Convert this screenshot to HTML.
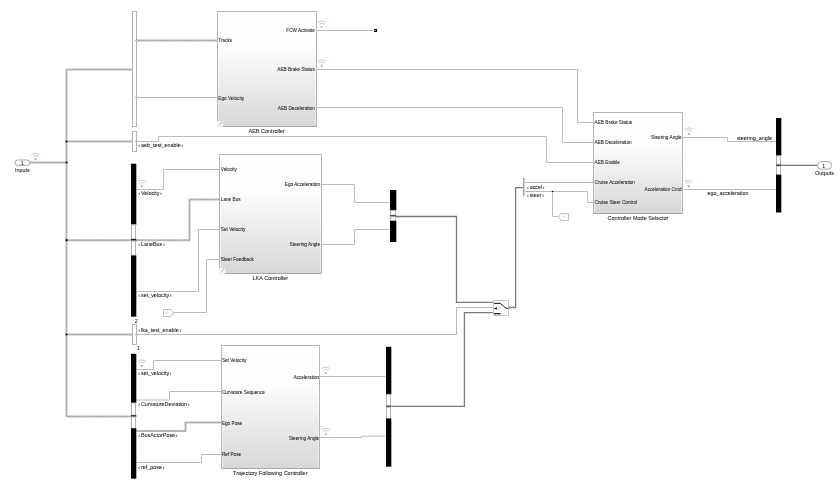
<!DOCTYPE html>
<html><head><meta charset="utf-8"><style>
html,body{margin:0;padding:0;background:#fff;width:840px;height:488px;overflow:hidden}
svg{display:block;will-change:transform}
text{font-family:"Liberation Sans",sans-serif;stroke:#000;stroke-width:0.05px}
</style></head><body>
<svg width="840" height="488" viewBox="0 0 840 488">
<defs>
<linearGradient id="g" x1="0" y1="0" x2="0" y2="1">
<stop offset="0" stop-color="#ffffff"/><stop offset="0.33" stop-color="#fcfcfc"/><stop offset="1" stop-color="#d7d7d7"/>
</linearGradient>
<g id="wifi" fill="none" stroke="#6f9fd8" stroke-width="0.85" stroke-opacity="0.62">
<circle cx="0" cy="0" r="1.1" fill="#6f9fd8" fill-opacity="0.75" stroke="none"/>
<path d="M-2.6,-2.5 A3.4,3.4 0 0 1 2.6,-2.5"/>
<path d="M-4.15,-4.3 A6.8,6.8 0 0 1 4.15,-4.3"/>
</g>
</defs>
<rect width="840" height="488" fill="#fff"/>
<path d="M30,162.5 L66.5,162.5" fill="none" stroke="#bababa" stroke-width="2"/>
<path d="M30,162.5 L66.5,162.5" fill="none" stroke="#9a9a9a" stroke-width="0.7" stroke-dasharray="1.2 1.8"/>
<path d="M66.5,69.5 L66.5,416.5" fill="none" stroke="#bababa" stroke-width="2"/>
<path d="M66.5,69.5 L66.5,416.5" fill="none" stroke="#9a9a9a" stroke-width="0.7" stroke-dasharray="1.2 1.8"/>
<path d="M66.5,69.5 L132,69.5" fill="none" stroke="#bababa" stroke-width="2"/>
<path d="M66.5,69.5 L132,69.5" fill="none" stroke="#9a9a9a" stroke-width="0.7" stroke-dasharray="1.2 1.8"/>
<path d="M66.5,141.5 L132,141.5" fill="none" stroke="#bababa" stroke-width="2"/>
<path d="M66.5,141.5 L132,141.5" fill="none" stroke="#9a9a9a" stroke-width="0.7" stroke-dasharray="1.2 1.8"/>
<path d="M66.5,240.2 L131,240.2" fill="none" stroke="#bababa" stroke-width="2"/>
<path d="M66.5,240.2 L131,240.2" fill="none" stroke="#9a9a9a" stroke-width="0.7" stroke-dasharray="1.2 1.8"/>
<path d="M66.5,334.5 L132,334.5" fill="none" stroke="#bababa" stroke-width="2"/>
<path d="M66.5,334.5 L132,334.5" fill="none" stroke="#9a9a9a" stroke-width="0.7" stroke-dasharray="1.2 1.8"/>
<path d="M66.5,416.5 L131,416.5" fill="none" stroke="#bababa" stroke-width="2"/>
<path d="M66.5,416.5 L131,416.5" fill="none" stroke="#9a9a9a" stroke-width="0.7" stroke-dasharray="1.2 1.8"/>
<circle cx="66.5" cy="141.5" r="1.1" fill="#000"/>
<circle cx="66.5" cy="162.5" r="1.1" fill="#000"/>
<circle cx="66.5" cy="240.2" r="1.1" fill="#000"/>
<circle cx="66.5" cy="334.5" r="1.1" fill="#000"/>
<path d="M136.5,40.5 L217.5,40.5" fill="none" stroke="#bababa" stroke-width="2"/>
<path d="M136.5,40.5 L217.5,40.5" fill="none" stroke="#9a9a9a" stroke-width="0.7" stroke-dasharray="1.2 1.8"/>
<path d="M136.5,97.5 L217.5,97.5" fill="none" stroke="#bcbcbc" stroke-width="1"/>
<path d="M316.5,30.5 L374,30.5" fill="none" stroke="#bcbcbc" stroke-width="1"/>
<path d="M316.5,69.5 L577.5,69.5 L577.5,122.5 L593.5,122.5" fill="none" stroke="#bcbcbc" stroke-width="1"/>
<path d="M316.5,107.5 L562.5,107.5 L562.5,142.5 L593.5,142.5" fill="none" stroke="#bcbcbc" stroke-width="1"/>
<path d="M136.5,141.5 L158.5,141.5 L158.5,136.5 L546.5,136.5 L546.5,162.5 L593.5,162.5" fill="none" stroke="#bcbcbc" stroke-width="1"/>
<path d="M136,189.5 L163.5,189.5 L163.5,169.5 L219.5,169.5" fill="none" stroke="#bcbcbc" stroke-width="1"/>
<path d="M136,240.2 L189.5,240.2 L189.5,199.5 L219.5,199.5" fill="none" stroke="#bababa" stroke-width="2"/>
<path d="M136,240.2 L189.5,240.2 L189.5,199.5 L219.5,199.5" fill="none" stroke="#9a9a9a" stroke-width="0.7" stroke-dasharray="1.2 1.8"/>
<path d="M136,291.5 L198.5,291.5 L198.5,229.5 L219.5,229.5" fill="none" stroke="#bcbcbc" stroke-width="1"/>
<path d="M173.5,312.5 L206.5,312.5 L206.5,259.5 L219.5,259.5" fill="none" stroke="#bcbcbc" stroke-width="1"/>
<path d="M321.5,184.5 L354.5,184.5 L354.5,202.5 L389.5,202.5" fill="none" stroke="#bcbcbc" stroke-width="1"/>
<path d="M321.5,244.5 L354.5,244.5 L354.5,229.5 L389.5,229.5" fill="none" stroke="#bcbcbc" stroke-width="1"/>
<path d="M136.5,334.5 L456.5,334.5 L456.5,307.5 L493.5,307.5" fill="none" stroke="#bcbcbc" stroke-width="1"/>
<path d="M396,216.5 L456.5,216.5 L456.5,302.4 L493.5,302.4" fill="none" stroke="#7a7a7a" stroke-width="1.3"/>
<path d="M136,369.5 L153.5,369.5 L153.5,360.5 L221.5,360.5" fill="none" stroke="#bcbcbc" stroke-width="1"/>
<path d="M136,400 L169.5,400 L169.5,391.5 L221.5,391.5" fill="none" stroke="#bcbcbc" stroke-width="1"/>
<path d="M136,431 L185.5,431 L185.5,422.5 L221.5,422.5" fill="none" stroke="#bababa" stroke-width="2"/>
<path d="M136,431 L185.5,431 L185.5,422.5 L221.5,422.5" fill="none" stroke="#9a9a9a" stroke-width="0.7" stroke-dasharray="1.2 1.8"/>
<path d="M136,462.5 L201.5,462.5 L201.5,454.5 L221.5,454.5" fill="none" stroke="#bcbcbc" stroke-width="1"/>
<path d="M319.5,376.5 L386,376.5" fill="none" stroke="#bcbcbc" stroke-width="1"/>
<path d="M319.5,437.5 L361.5,437.5 L361.5,436.2 L386,436.2" fill="none" stroke="#bcbcbc" stroke-width="1"/>
<path d="M391,406.3 L464.4,406.3 L464.4,312.6 L493.5,312.6" fill="none" stroke="#7a7a7a" stroke-width="1.3"/>
<path d="M508.5,307.5 L515.6,307.5 L515.6,187.6 L523,187.6" fill="none" stroke="#7a7a7a" stroke-width="1.3"/>
<path d="M525,182.5 L593.5,182.5" fill="none" stroke="#bcbcbc" stroke-width="1"/>
<path d="M525,191.5 L587.5,191.5 L587.5,202.5 L593.5,202.5" fill="none" stroke="#bcbcbc" stroke-width="1"/>
<path d="M552.5,191.5 L552.5,216.5 L558.5,216.5" fill="none" stroke="#bcbcbc" stroke-width="1"/>
<circle cx="552.5" cy="191.5" r="0.8" fill="#000"/>
<path d="M682.5,137.5 L727.5,137.5 L727.5,141.5 L776,141.5" fill="none" stroke="#bcbcbc" stroke-width="1"/>
<path d="M682.5,189.5 L776,189.5" fill="none" stroke="#bcbcbc" stroke-width="1"/>
<path d="M781,165.3 L817.2,165.3" fill="none" stroke="#7a7a7a" stroke-width="1.3"/>
<rect x="217.5" y="11.5" width="99.0" height="115.0" fill="url(#g)" stroke="#b6b6b6" stroke-width="1"/>
<path d="M218.5,12.5 V125.5 M315.5,12.5 V125.5" stroke="#fff" stroke-opacity="0.45" stroke-width="1"/>
<path d="M217.5,126.5 H316.5" stroke="#a6a6a6" stroke-width="1"/>
<rect x="216.9" y="120.9" width="6.6" height="6.2" rx="2.2" fill="#fff" opacity="0.95"/>
<path d="M218.89999999999998,125.1 L221.6,122.3 M220.1,121.8 L221.79999999999998,122.0 L222.1,123.8 M218.89999999999998,123.1 Q219.29999999999998,125.0 221.0,125.3" fill="none" stroke="#a8a8a8" stroke-width="0.6"/>
<rect x="219.5" y="154.5" width="102.0" height="119.0" fill="url(#g)" stroke="#b6b6b6" stroke-width="1"/>
<path d="M220.5,155.5 V272.5 M320.5,155.5 V272.5" stroke="#fff" stroke-opacity="0.45" stroke-width="1"/>
<path d="M219.5,273.5 H321.5" stroke="#a6a6a6" stroke-width="1"/>
<rect x="218.9" y="267.9" width="6.6" height="6.2" rx="2.2" fill="#fff" opacity="0.95"/>
<path d="M220.89999999999998,272.1 L223.6,269.3 M222.1,268.8 L223.79999999999998,269.0 L224.1,270.8 M220.89999999999998,270.1 Q221.29999999999998,272.0 223.0,272.3" fill="none" stroke="#a8a8a8" stroke-width="0.6"/>
<rect x="221.5" y="345.5" width="98.0" height="123.0" fill="url(#g)" stroke="#b6b6b6" stroke-width="1"/>
<path d="M222.5,346.5 V467.5 M318.5,346.5 V467.5" stroke="#fff" stroke-opacity="0.45" stroke-width="1"/>
<path d="M221.5,468.5 H319.5" stroke="#a6a6a6" stroke-width="1"/>
<rect x="593.5" y="112.5" width="89.0" height="101.0" fill="url(#g)" stroke="#b6b6b6" stroke-width="1"/>
<path d="M594.5,113.5 V212.5 M681.5,113.5 V212.5" stroke="#fff" stroke-opacity="0.45" stroke-width="1"/>
<path d="M593.5,213.5 H682.5" stroke="#a6a6a6" stroke-width="1"/>
<rect x="132.5" y="11.5" width="4.0" height="115.0" fill="#fff" stroke="#b3b3b3" stroke-width="1"/>
<rect x="132.5" y="131.5" width="4.0" height="20.0" fill="#fff" stroke="#b3b3b3" stroke-width="1"/>
<rect x="132.5" y="324.5" width="4.0" height="20.0" fill="#fff" stroke="#b3b3b3" stroke-width="1"/>
<rect x="131" y="163.7" width="5" height="61.0" fill="#000"/>
<rect x="136" y="163.7" width="0.6" height="61.0" fill="#777"/>
<rect x="131.5" y="224.7" width="4" height="14.400000000000006" fill="#fff" stroke="#b0b0b0" stroke-width="1"/>
<rect x="131" y="239.1" width="5" height="1.8000000000000114" fill="#000"/>
<rect x="136" y="239.1" width="0.6" height="1.8000000000000114" fill="#777"/>
<rect x="131.5" y="240.9" width="4" height="14.599999999999994" fill="#fff" stroke="#b0b0b0" stroke-width="1"/>
<rect x="131" y="255.5" width="5" height="61.19999999999999" fill="#000"/>
<rect x="136" y="255.5" width="0.6" height="61.19999999999999" fill="#777"/>
<rect x="131" y="353.8" width="5" height="49.19999999999999" fill="#000"/>
<rect x="136" y="353.8" width="0.6" height="49.19999999999999" fill="#777"/>
<rect x="131.5" y="403" width="4" height="12.300000000000011" fill="#fff" stroke="#b0b0b0" stroke-width="1"/>
<rect x="131" y="415.3" width="5" height="1.599999999999966" fill="#000"/>
<rect x="136" y="415.3" width="0.6" height="1.599999999999966" fill="#777"/>
<rect x="131.5" y="416.9" width="4" height="11.400000000000034" fill="#fff" stroke="#b0b0b0" stroke-width="1"/>
<rect x="131" y="428.3" width="5" height="50.39999999999998" fill="#000"/>
<rect x="136" y="428.3" width="0.6" height="50.39999999999998" fill="#777"/>
<rect x="390" y="190" width="6" height="20.400000000000006" fill="#000"/>
<rect x="396" y="190" width="0.6" height="20.400000000000006" fill="#777"/>
<rect x="390.5" y="210.4" width="5" height="4.799999999999983" fill="#fff" stroke="#b0b0b0" stroke-width="1"/>
<rect x="390" y="215.2" width="6" height="1.6000000000000227" fill="#333"/>
<rect x="390.5" y="216.8" width="5" height="4.099999999999994" fill="#fff" stroke="#b0b0b0" stroke-width="1"/>
<rect x="390" y="220.9" width="6" height="21.099999999999994" fill="#000"/>
<rect x="396" y="220.9" width="0.6" height="21.099999999999994" fill="#777"/>
<rect x="386" y="346.8" width="5" height="47.599999999999966" fill="#000"/>
<rect x="391" y="346.8" width="0.6" height="47.599999999999966" fill="#777"/>
<rect x="386.5" y="394.4" width="4" height="11.300000000000011" fill="#fff" stroke="#b0b0b0" stroke-width="1"/>
<rect x="386" y="405.7" width="5" height="1.400000000000034" fill="#333"/>
<rect x="386.5" y="407.1" width="4" height="11.399999999999977" fill="#fff" stroke="#b0b0b0" stroke-width="1"/>
<rect x="386" y="418.5" width="5" height="48.19999999999999" fill="#000"/>
<rect x="391" y="418.5" width="0.6" height="48.19999999999999" fill="#777"/>
<rect x="776" y="118" width="5" height="37.80000000000001" fill="#000"/>
<rect x="781" y="118" width="0.6" height="37.80000000000001" fill="#777"/>
<rect x="776.5" y="155.8" width="4" height="8.899999999999977" fill="#fff" stroke="#b0b0b0" stroke-width="1"/>
<rect x="776" y="164.7" width="5" height="1.3000000000000114" fill="#000"/>
<rect x="781" y="164.7" width="0.6" height="1.3000000000000114" fill="#777"/>
<rect x="776.5" y="166" width="4" height="8.699999999999989" fill="#fff" stroke="#b0b0b0" stroke-width="1"/>
<rect x="776" y="174.7" width="5" height="37.80000000000001" fill="#000"/>
<rect x="781" y="174.7" width="0.6" height="37.80000000000001" fill="#777"/>
<rect x="523" y="178" width="1.5" height="18.2" fill="#a5a5a5"/>
<path d="M135.2,40.5 L136.5,39.2 L137.8,40.5 L136.5,41.8 Z" fill="#c4c4c4" stroke="#9c9c9c" stroke-width="0.6"/>
<path d="M135.2,97.5 L136.5,96.2 L137.8,97.5 L136.5,98.8 Z" fill="#c4c4c4" stroke="#9c9c9c" stroke-width="0.6"/>
<path d="M135.2,141.5 L136.5,140.2 L137.8,141.5 L136.5,142.8 Z" fill="#c4c4c4" stroke="#9c9c9c" stroke-width="0.6"/>
<path d="M135.2,334.5 L136.5,333.2 L137.8,334.5 L136.5,335.8 Z" fill="#c4c4c4" stroke="#9c9c9c" stroke-width="0.6"/>
<rect x="374" y="29" width="3.1" height="3" fill="#000"/><rect x="374" y="30.1" width="1.7" height="0.9" fill="#ccc"/>
<path d="M163.5,309.5 L171,309.5 L173.5,313 L171,316.5 L163.5,316.5 Z" fill="#fff" stroke="#b0b0b0" stroke-width="0.8"/>
<path d="M165.8,313 L167.6,313 M166.7,312.1 L166.7,313.9" stroke="#c4c4c4" stroke-width="0.7"/>
<path d="M568.5,213.5 L561,213.5 L558.8,216.8 L561,220.5 L568.5,220.5 Z" fill="#fff" stroke="#b4b4b4" stroke-width="0.85"/>
<path d="M563.2,216.3 H565.4 M564.3,215.2 V217.4" stroke="#c4c4c4" stroke-width="0.6"/>
<rect x="493.6" y="300.6" width="15" height="14.8" fill="#fff" stroke="#bcbcbc" stroke-width="0.8"/>
<path d="M494,303.4 L500.3,303.4 L506.2,308.3 L508.4,308.3" fill="none" stroke="#111" stroke-width="1"/>
<path d="M494,308.5 L496,308.5" fill="none" stroke="#111" stroke-width="0.8"/>
<path d="M494.6,308.5 L496.8,307 L496.8,310 Z" fill="#111"/>
<path d="M498.4,306.9 L500.9,308.5 L498.4,310.1 Z" fill="#d0d0d0"/>
<rect x="494" y="314.1" width="6.4" height="1.3" fill="#bdbdbd"/>
<path d="M494,313.6 L500.6,313.6" fill="none" stroke="#111" stroke-width="1"/>
<rect x="15" y="160" width="14.8" height="5.4" rx="2.7" fill="#fff" stroke="#8f8f8f" stroke-width="0.8"/>
<text x="22.4" y="164.6" font-size="4.8" text-anchor="middle" fill="#1a1a1a">1</text>
<text x="22.4" y="171.8" font-size="5.4" text-anchor="middle" fill="#1a1a1a">Inputs</text>
<rect x="817.6" y="161.6" width="14" height="7.6" rx="3.8" fill="#fff" stroke="#8f8f8f" stroke-width="0.8"/>
<text x="823.8" y="167.9" font-size="5.2" text-anchor="middle" fill="#1a1a1a">1</text>
<text x="824.4" y="174.8" font-size="5.4" text-anchor="middle" fill="#1a1a1a">Outputs</text>
<use href="#wifi" x="35.5" y="159.2"/>
<use href="#wifi" x="321.6" y="27.0"/>
<use href="#wifi" x="321.7" y="65.8"/>
<use href="#wifi" x="141.7" y="186.2"/>
<use href="#wifi" x="688.7" y="133.8"/>
<use href="#wifi" x="688.7" y="186.2"/>
<use href="#wifi" x="141.7" y="365.8"/>
<use href="#wifi" x="325.8" y="373.0"/>
<use href="#wifi" x="325.8" y="434.2"/>
<text x="218.3" y="41.7" font-size="4.7" text-anchor="start" fill="#1a1a1a" textLength="13.9" lengthAdjust="spacingAndGlyphs">Tracks</text>
<text x="218.3" y="99.7" font-size="4.7" text-anchor="start" fill="#1a1a1a">Ego Velocity</text>
<text x="314.8" y="31.7" font-size="4.7" text-anchor="end" fill="#1a1a1a" textLength="28.5" lengthAdjust="spacingAndGlyphs">FCW Activate</text>
<text x="314.8" y="70.7" font-size="4.7" text-anchor="end" fill="#1a1a1a">AEB Brake Status</text>
<text x="314.8" y="109.5" font-size="4.7" text-anchor="end" fill="#1a1a1a">AEB Deceleration</text>
<text x="266.7" y="133.2" font-size="5.5" text-anchor="middle" fill="#1a1a1a" textLength="36.3" lengthAdjust="spacingAndGlyphs">AEB Controller</text>
<text x="220.8" y="170.7" font-size="4.7" text-anchor="start" fill="#1a1a1a">Velocity</text>
<text x="220.8" y="200.7" font-size="4.7" text-anchor="start" fill="#1a1a1a">Lane Bus</text>
<text x="220.8" y="230.7" font-size="4.7" text-anchor="start" fill="#1a1a1a">Set Velocity</text>
<text x="220.8" y="260.7" font-size="4.7" text-anchor="start" fill="#1a1a1a">Steer Feedback</text>
<text x="320" y="185.7" font-size="4.7" text-anchor="end" fill="#1a1a1a">Ego Acceleration</text>
<text x="320" y="245.7" font-size="4.7" text-anchor="end" fill="#1a1a1a">Steering Angle</text>
<text x="270.3" y="280" font-size="5.5" text-anchor="middle" fill="#1a1a1a">LKA Controller</text>
<text x="221.9" y="361.8" font-size="4.7" text-anchor="start" fill="#1a1a1a">Set Velocity</text>
<text x="221.9" y="394.1" font-size="4.7" text-anchor="start" fill="#1a1a1a">Curvature Sequence</text>
<text x="221.9" y="424.9" font-size="4.7" text-anchor="start" fill="#1a1a1a">Ego Pose</text>
<text x="221.9" y="455.8" font-size="4.7" text-anchor="start" fill="#1a1a1a">Ref Pose</text>
<text x="319.2" y="378.7" font-size="4.7" text-anchor="end" fill="#1a1a1a">Acceleration</text>
<text x="319.2" y="439.7" font-size="4.7" text-anchor="end" fill="#1a1a1a">Steering Angle</text>
<text x="270.3" y="475" font-size="5.5" text-anchor="middle" fill="#1a1a1a">Trajectory Following Controller</text>
<text x="594.6" y="123.9" font-size="4.7" text-anchor="start" fill="#1a1a1a">AEB Brake Status</text>
<text x="594.6" y="143.9" font-size="4.7" text-anchor="start" fill="#1a1a1a">AEB Deceleration</text>
<text x="594.6" y="163.9" font-size="4.7" text-anchor="start" fill="#1a1a1a">AEB Enable</text>
<text x="594.6" y="183.9" font-size="4.7" text-anchor="start" fill="#1a1a1a">Cruise Acceleration</text>
<text x="594.6" y="203.9" font-size="4.7" text-anchor="start" fill="#1a1a1a">Cruise Steer Control</text>
<text x="681.5" y="138.7" font-size="4.7" text-anchor="end" fill="#1a1a1a">Steering Angle</text>
<text x="681.5" y="191.0" font-size="4.7" text-anchor="end" fill="#1a1a1a">Acceleration Cmd</text>
<text x="638" y="220" font-size="5.5" text-anchor="middle" fill="#1a1a1a">Controller Mode Selector</text>
<text x="139.22" y="147.2" font-size="5.4" text-anchor="middle" fill="#1a1a1a">‹</text>
<text x="140.95" y="147.2" font-size="5.4" text-anchor="start" fill="#1a1a1a">aeb_test_enable</text>
<text x="182.46" y="147.2" font-size="5.4" text-anchor="middle" fill="#1a1a1a">›</text>
<text x="139.22" y="194.8" font-size="5.4" text-anchor="middle" fill="#1a1a1a">‹</text>
<text x="140.95" y="194.8" font-size="5.4" text-anchor="start" fill="#1a1a1a">Velocity</text>
<text x="161.14" y="194.8" font-size="5.4" text-anchor="middle" fill="#1a1a1a">›</text>
<text x="139.22" y="245.6" font-size="5.4" text-anchor="middle" fill="#1a1a1a">‹</text>
<text x="140.95" y="245.6" font-size="5.4" text-anchor="start" fill="#1a1a1a">LaneBus</text>
<text x="163.85" y="245.6" font-size="5.4" text-anchor="middle" fill="#1a1a1a">›</text>
<text x="139.22" y="297.0" font-size="5.4" text-anchor="middle" fill="#1a1a1a">‹</text>
<text x="140.95" y="297.0" font-size="5.4" text-anchor="start" fill="#1a1a1a">set_velocity</text>
<text x="170.74" y="297.0" font-size="5.4" text-anchor="middle" fill="#1a1a1a">›</text>
<text x="139.22" y="332.0" font-size="5.4" text-anchor="middle" fill="#1a1a1a">‹</text>
<text x="140.95" y="332.0" font-size="5.4" text-anchor="start" fill="#1a1a1a">lka_test_enable</text>
<text x="180.36" y="332.0" font-size="5.4" text-anchor="middle" fill="#1a1a1a">›</text>
<text x="139.22" y="375.0" font-size="5.4" text-anchor="middle" fill="#1a1a1a">‹</text>
<text x="140.95" y="375.0" font-size="5.4" text-anchor="start" fill="#1a1a1a">set_velocity</text>
<text x="170.74" y="375.0" font-size="5.4" text-anchor="middle" fill="#1a1a1a">›</text>
<text x="139.22" y="405.8" font-size="5.4" text-anchor="middle" fill="#1a1a1a">‹</text>
<text x="140.95" y="405.8" font-size="5.4" text-anchor="start" fill="#1a1a1a">CurvatureDeviation</text>
<text x="188.75" y="405.8" font-size="5.4" text-anchor="middle" fill="#1a1a1a">›</text>
<text x="139.22" y="437.0" font-size="5.4" text-anchor="middle" fill="#1a1a1a">‹</text>
<text x="140.95" y="437.0" font-size="5.4" text-anchor="start" fill="#1a1a1a">BusActorPose</text>
<text x="176.75" y="437.0" font-size="5.4" text-anchor="middle" fill="#1a1a1a">›</text>
<text x="139.22" y="469.0" font-size="5.4" text-anchor="middle" fill="#1a1a1a">‹</text>
<text x="140.95" y="469.0" font-size="5.4" text-anchor="start" fill="#1a1a1a">ref_pose</text>
<text x="163.54" y="469.0" font-size="5.4" text-anchor="middle" fill="#1a1a1a">›</text>
<text x="527.99" y="189.2" font-size="5.3" text-anchor="middle" fill="#1a1a1a">‹</text>
<text x="529.7" y="189.2" font-size="5.3" text-anchor="start" fill="#1a1a1a">accel</text>
<text x="543.62" y="189.2" font-size="5.3" text-anchor="middle" fill="#1a1a1a">›</text>
<text x="527.99" y="197.2" font-size="5.3" text-anchor="middle" fill="#1a1a1a">‹</text>
<text x="529.7" y="197.2" font-size="5.3" text-anchor="start" fill="#1a1a1a">steer</text>
<text x="543.03" y="197.2" font-size="5.3" text-anchor="middle" fill="#1a1a1a">›</text>
<text x="136.3" y="322.8" font-size="5.4" text-anchor="middle" fill="#1a1a1a">2</text>
<text x="138.3" y="350.0" font-size="5.4" text-anchor="middle" fill="#1a1a1a">1</text>
<text x="772" y="140.0" font-size="5.4" text-anchor="end" fill="#1a1a1a">steering_angle</text>
<text x="728" y="195.0" font-size="5.4" text-anchor="middle" fill="#1a1a1a">ego_acceleration</text>
</svg>
</body></html>
